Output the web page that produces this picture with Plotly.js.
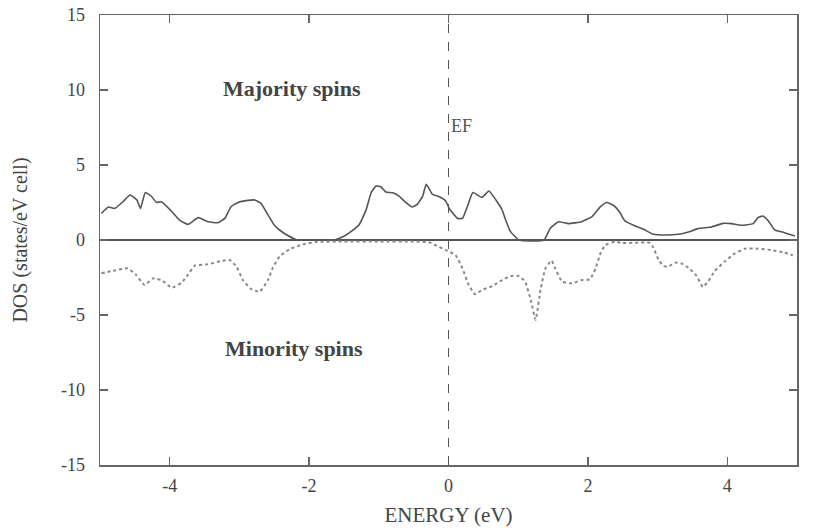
<!DOCTYPE html>
<html>
<head>
<meta charset="utf-8">
<script src="https://cdn.plot.ly/plotly-3.0.1.min.js"></script>
<style>html,body{margin:0;padding:0;background:#fff;}#plot{width:824px;height:528px;}</style>
</head>
<body>
<div id="plot"></div>
<script>
// Majority spin DOS (solid)
const majE = [-4.98,-4.88,-4.79,-4.67,-4.57,-4.47,-4.42,-4.35,-4.26,-4.19,-4.12,-3.97,-3.86,-3.74,-3.59,-3.45,-3.31,-3.21,-3.12,-3.02,-2.88,-2.78,-2.69,-2.59,-2.5,-2.42,-2.33,-2.19,-2.1,-1.9,-1.63,-1.5,-1.42,-1.28,-1.18,-1.11,-1.04,-0.97,-0.9,-0.8,-0.71,-0.61,-0.52,-0.45,-0.37,-0.32,-0.23,-0.14,-0.04,0.01,0.13,0.2,0.27,0.35,0.48,0.58,0.68,0.77,0.82,0.89,1.01,1.37,1.46,1.58,1.72,1.91,2.06,2.18,2.27,2.37,2.45,2.53,2.68,2.8,2.94,3.11,3.3,3.44,3.58,3.77,3.94,4.06,4.2,4.37,4.44,4.51,4.59,4.68,4.82,4.97];
const majDOS = [1.77,2.2,2.1,2.55,3.0,2.67,2.1,3.17,2.9,2.5,2.55,1.9,1.33,1.04,1.49,1.22,1.15,1.44,2.22,2.5,2.64,2.67,2.44,1.67,1.0,0.65,0.37,0.04,0.0,0.0,0.02,0.25,0.49,1.04,2.04,3.15,3.6,3.55,3.2,3.15,2.93,2.49,2.2,2.37,2.93,3.71,3.04,2.9,2.6,2.1,1.44,1.44,2.22,3.16,2.84,3.27,2.67,2.0,1.33,0.56,0.0,0.0,0.78,1.22,1.09,1.22,1.56,2.22,2.5,2.3,1.9,1.27,0.93,0.71,0.38,0.33,0.38,0.53,0.76,0.87,1.11,1.09,0.98,1.09,1.49,1.6,1.27,0.67,0.49,0.27];
// Minority spin DOS (dotted)
const minE = [-4.98,-4.83,-4.6,-4.48,-4.36,-4.24,-4.12,-3.97,-3.83,-3.74,-3.64,-3.45,-3.26,-3.14,-3.04,-2.95,-2.83,-2.71,-2.59,-2.52,-2.42,-2.28,-2.09,-1.9,-1.5,-1.0,-0.5,-0.28,-0.14,-0.04,0.1,0.2,0.29,0.38,0.48,0.63,0.77,0.89,1.01,1.1,1.18,1.25,1.32,1.39,1.48,1.53,1.63,1.77,1.91,2.03,2.11,2.18,2.25,2.39,2.49,2.68,2.88,2.94,3.01,3.08,3.15,3.25,3.34,3.46,3.56,3.65,3.73,3.82,3.97,4.11,4.25,4.44,4.63,4.82,4.94];
const minDOS = [-2.22,-2.07,-1.89,-2.33,-3.0,-2.56,-2.67,-3.18,-2.85,-2.33,-1.71,-1.62,-1.4,-1.33,-1.78,-2.67,-3.27,-3.45,-2.67,-1.84,-1.07,-0.62,-0.29,-0.13,-0.1,-0.1,-0.1,-0.15,-0.45,-0.67,-1.0,-1.89,-3.0,-3.62,-3.33,-3.07,-2.67,-2.4,-2.4,-2.78,-4.0,-5.33,-3.33,-1.89,-1.37,-1.89,-2.78,-2.89,-2.67,-2.62,-1.89,-0.89,-0.33,-0.11,-0.2,-0.18,-0.18,-0.51,-1.29,-1.73,-1.78,-1.51,-1.56,-1.91,-2.4,-3.13,-2.73,-2.07,-1.4,-0.89,-0.58,-0.58,-0.67,-0.84,-1.02];
const xTicks = [-4,-2,0,2,4];
const yTicks = [-15,-10,-5,0,5,10,15];
const labels = {maj: 'Majority spins', min: 'Minority spins', ef: 'EF'};

const font = 'Liberation Serif, Times New Roman, serif';
const data = [
  {x: majE, y: majDOS, type: 'scatter', mode: 'lines', line: {color: '#555', width: 1.6, shape: 'spline', smoothing: 0.4}, hoverinfo: 'skip'},
  {x: minE, y: minDOS, type: 'scatter', mode: 'lines', line: {color: '#888', width: 2, dash: 'dot', shape: 'spline', smoothing: 0.4}, hoverinfo: 'skip'}
];
const axisCommon = {
  showgrid: false, showline: true, linecolor: '#666', linewidth: 1.5, mirror: 'ticks',
  ticks: 'inside', ticklen: 8, tickcolor: '#666', tickwidth: 1.5,
  tickfont: {family: font, size: 18, color: '#444'}, fixedrange: true
};
const layout = {
  width: 824, height: 528,
  margin: {l: 100, r: 27, t: 15, b: 63},
  paper_bgcolor: '#fff', plot_bgcolor: '#fff',
  showlegend: false,
  xaxis: Object.assign({}, axisCommon, {
    range: [-5, 5], tickvals: xTicks, ticktext: xTicks.map(String),
    zeroline: false, ticklabelstandoff: 4,
    title: {text: 'ENERGY (eV)', font: {family: font, size: 21, color: '#444'}, standoff: 12}
  }),
  yaxis: Object.assign({}, axisCommon, {
    range: [-15, 15], tickvals: yTicks, ticktext: yTicks.map(String),
    zeroline: true, zerolinecolor: '#555', zerolinewidth: 2, ticklabelstandoff: 10,
    title: {text: 'DOS (states/eV cell)', font: {family: font, size: 20, color: '#444'}, standoff: 28}
  }),
  shapes: [
    {type: 'line', xref: 'x', yref: 'paper', x0: 0, x1: 0, y0: 0, y1: 1, line: {color: '#555', width: 1, dash: 'dash'}}
  ],
  annotations: [
    {x: -2.25, y: 10.1, xref: 'x', yref: 'y', text: '<b>' + labels.maj + '</b>', showarrow: false, font: {family: font, size: 22, color: '#444'}},
    {x: 0, y: 7.6, xref: 'x', yref: 'y', text: labels.ef, showarrow: false, xanchor: 'left', font: {family: font, size: 18, color: '#555'}},
    {x: -2.22, y: -7.2, xref: 'x', yref: 'y', text: '<b>' + labels.min + '</b>', showarrow: false, font: {family: font, size: 22, color: '#444'}}
  ]
};
Plotly.newPlot('plot', data, layout, {displayModeBar: false, staticPlot: true});
</script>
</body>
</html>
